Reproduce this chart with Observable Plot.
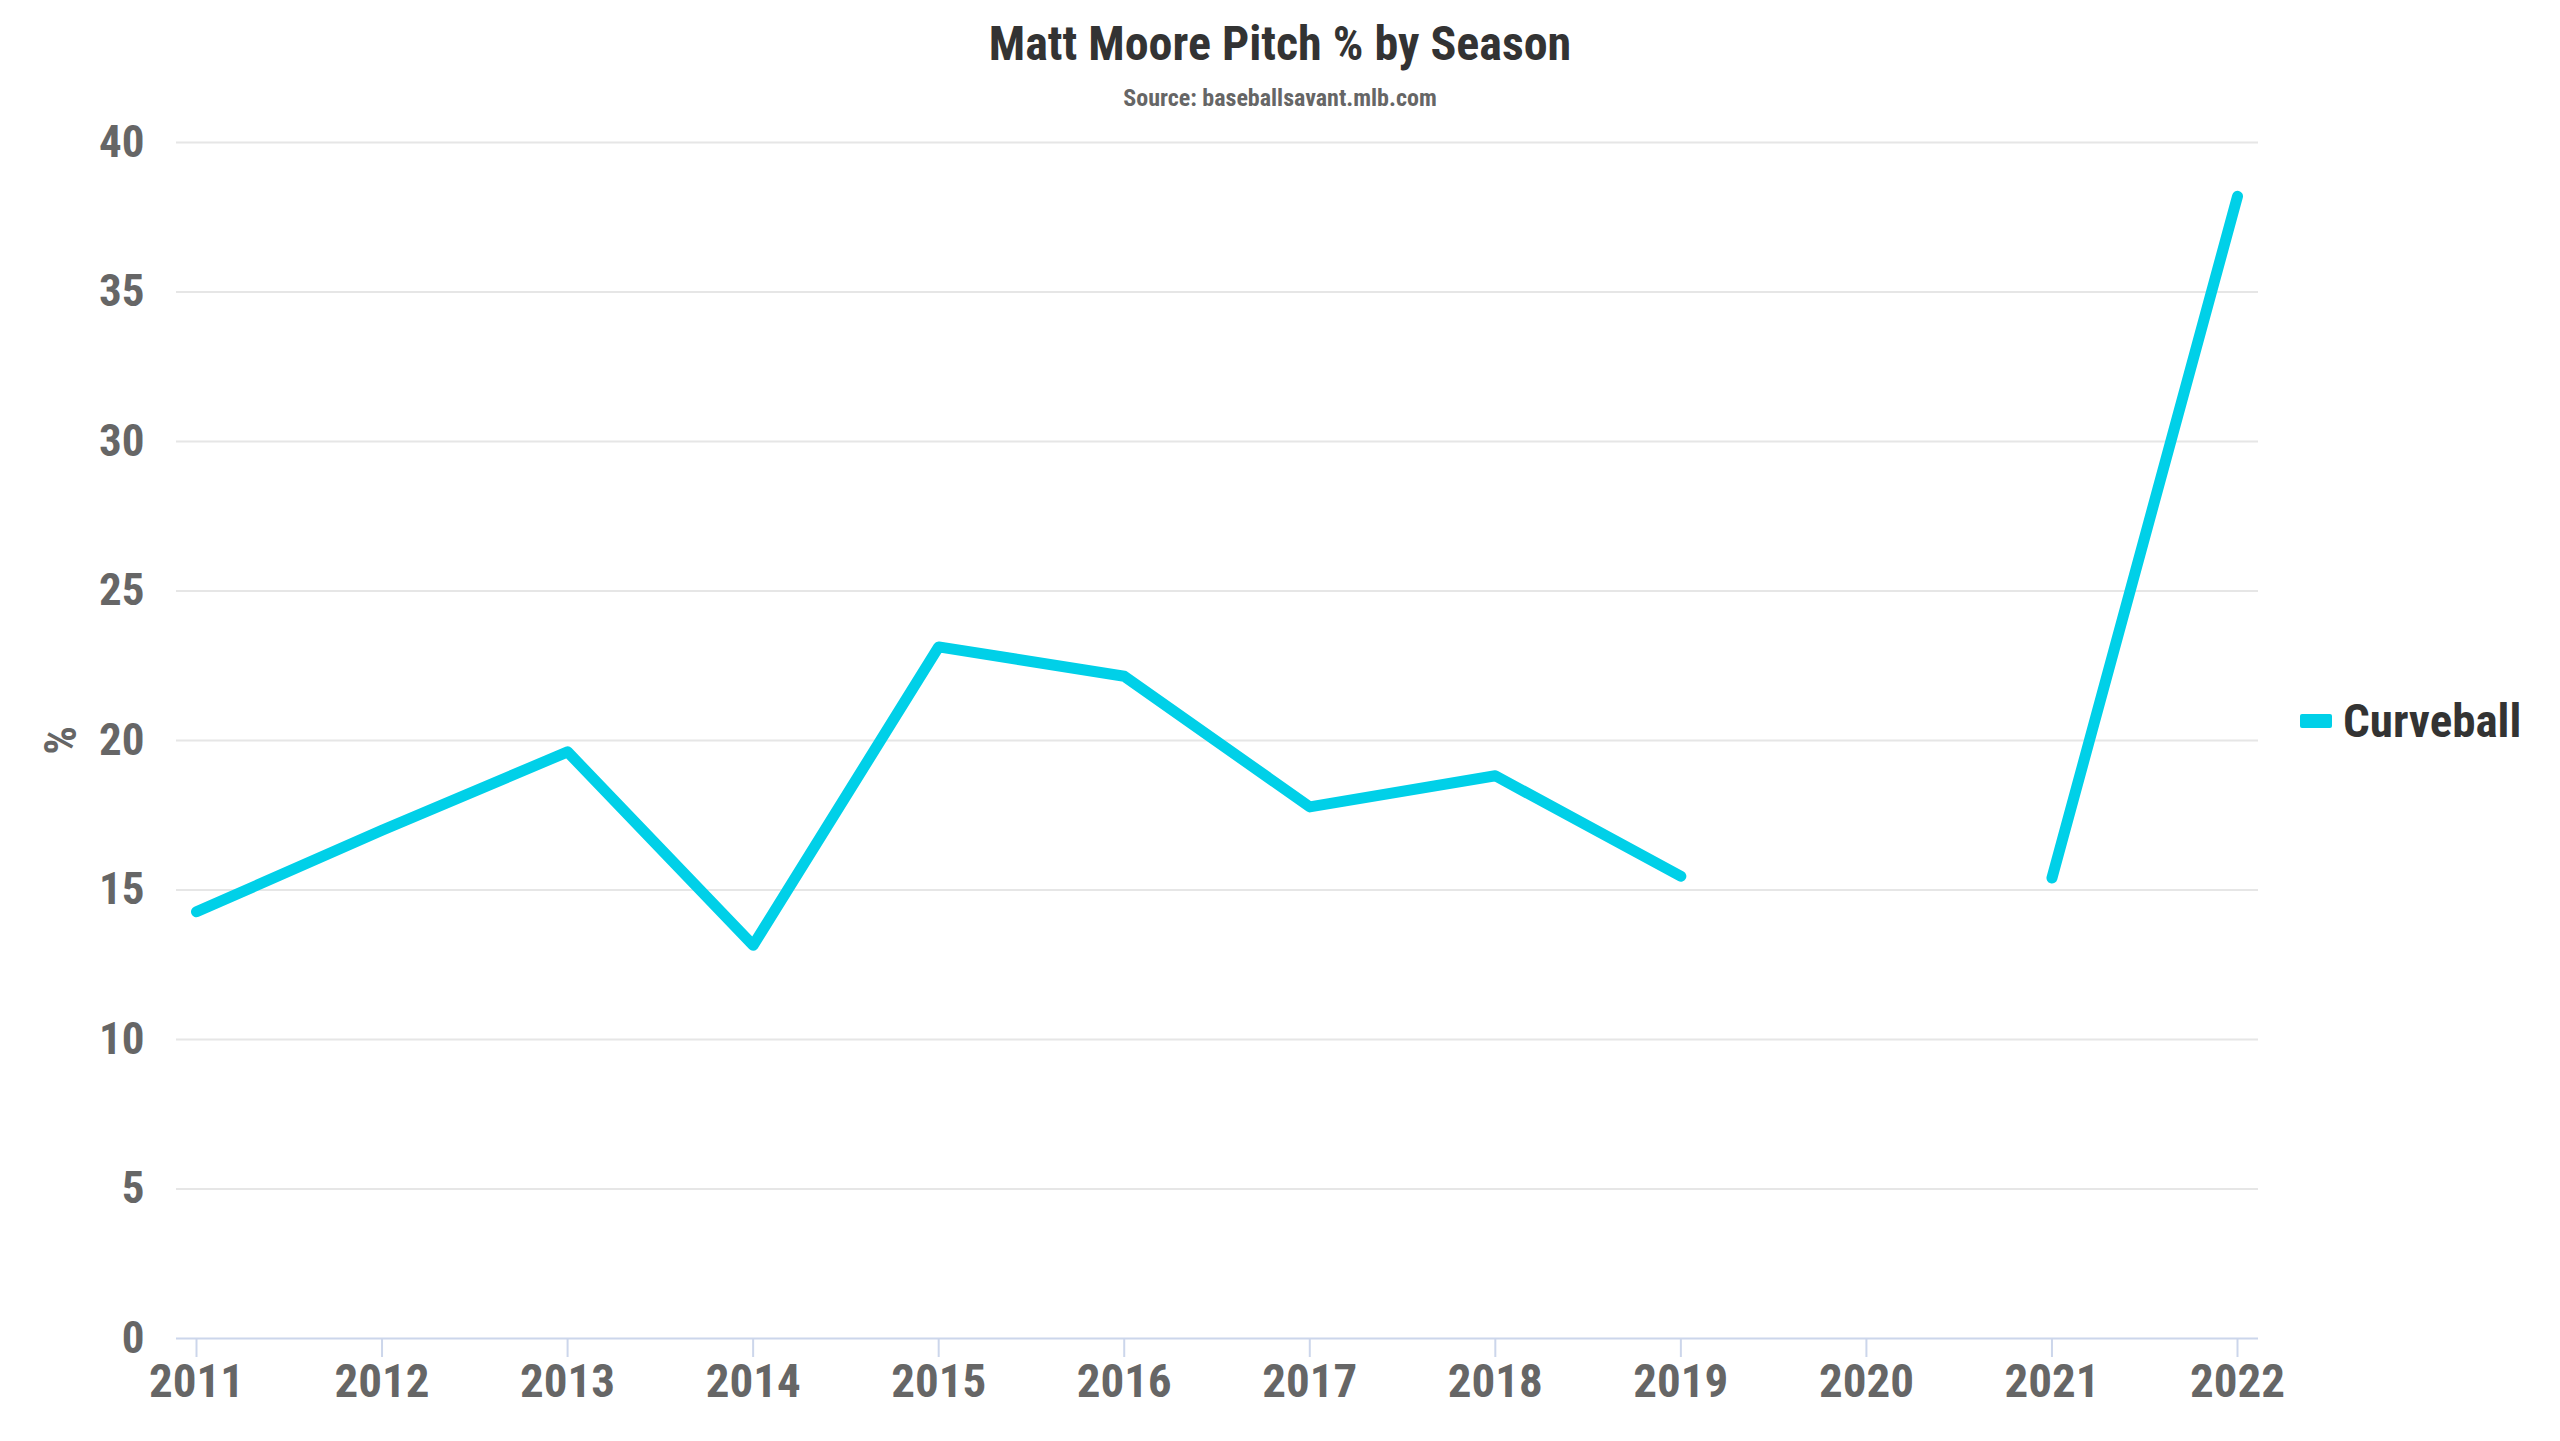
<!DOCTYPE html>
<html>
<head>
<meta charset="utf-8">
<script src="https://cdn.jsdelivr.net/npm/d3@7"></script>
<script src="https://cdn.jsdelivr.net/npm/@observablehq/plot@0.6"></script>
<style>
  html, body { margin: 0; padding: 0; background: #fff; }
  #wrap { position: relative; width: 2560px; height: 1441px; font-family: "Roboto Condensed", "Liberation Sans Narrow", "DejaVu Sans Condensed", Roboto, sans-serif; }
  #header { position: relative; height: 90px; }
  #title { position: absolute; left: 0; right: 0; top: 16px; text-align: center; font-size: 48px; font-weight: bold; color: #333; line-height: 56px; }
  #subtitle { position: absolute; left: 0; right: 0; top: 84px; text-align: center; font-size: 24px; font-weight: bold; color: #666; line-height: 28px; z-index: 2; }
  #legend { position: absolute; left: 2300px; top: 693px; display: flex; align-items: center; font-size: 47px; font-weight: bold; color: #333; }
  #legend .sw { width: 32px; height: 14px; background: #00d0e8; margin-right: 11px; border-radius: 2px; }
  svg text { font-family: "Roboto Condensed", "Liberation Sans Narrow", "DejaVu Sans Condensed", Roboto, sans-serif; font-weight: bold; }
</style>
</head>
<body>
<div id="wrap">
  <div id="header">
    <div id="title">Matt Moore Pitch % by Season</div>
    <div id="subtitle">Source: baseballsavant.mlb.com</div>
  </div>
  <div id="chart"></div>
  <div id="legend"><div class="sw"></div><span>Curveball</span></div>
</div>
<script>
const seasons = [2011, 2012, 2013, 2014, 2015, 2016, 2017, 2018, 2019, 2020, 2021, 2022];
const curveball = [14.27, 17.0, 19.62, 13.15, 23.13, 22.15, 17.78, 18.82, 15.46, null, 15.4, 38.2];
const yTicks = [0, 5, 10, 15, 20, 25, 30, 35, 40];
const seriesName = "Curveball";

const data = seasons.map((s, i) => ({season: s, value: curveball[i]}));

const chart = Plot.plot({
  width: 2560,
  height: 1351,
  marginTop: 52,
  marginBottom: 103,
  marginLeft: 176,
  marginRight: 302,
  x: {type: "linear", domain: [seasons[0], seasons[seasons.length - 1]], insetLeft: 20, insetRight: 21},
  y: {domain: [0, 40]},
  marks: [
    Plot.ruleY(yTicks.filter(d => d > 0), {stroke: "#e6e6e6", strokeWidth: 2}),
    Plot.ruleY([0], {stroke: "#ccd6eb", strokeWidth: 2}),
    Plot.axisY({ticks: yTicks, tickSize: 0, tickPadding: 32, fontSize: 45, fill: "#666",
      label: "%", labelAnchor: "center", labelArrow: "none", labelOffset: 132}),
    Plot.axisX({ticks: seasons, tickFormat: d => String(d), tickSize: 19, tickPadding: 6, stroke: "#ccd6eb", strokeWidth: 2, fontSize: 47, fill: "#666", label: null}),
    Plot.line(data, {x: "season", y: "value", stroke: "#00d0e8", strokeWidth: 11, strokeLinecap: "round", strokeLinejoin: "round"})
  ]
});
document.getElementById("chart").appendChild(chart);
</script>
</body>
</html>
